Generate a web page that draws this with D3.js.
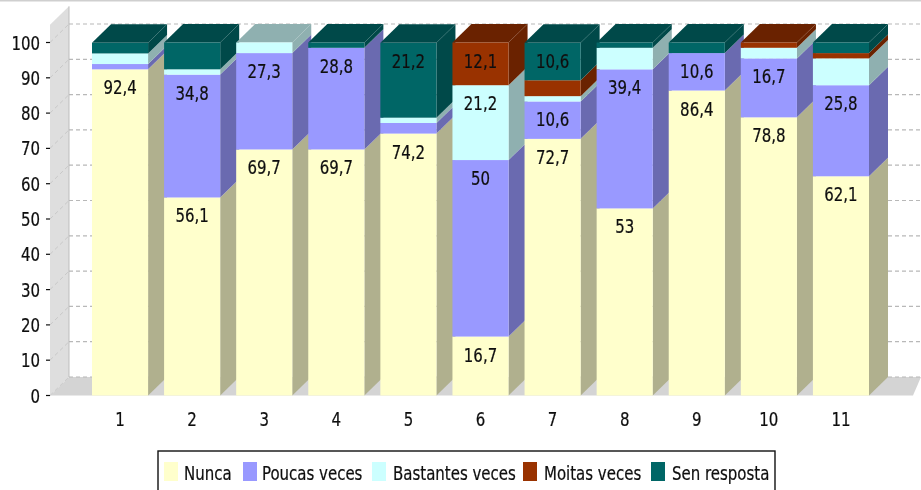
<!DOCTYPE html>
<html><head><meta charset="utf-8">
<script src="https://cdn.jsdelivr.net/npm/d3@7/dist/d3.min.js"></script>
<style>
html,body{margin:0;padding:0;background:#fff;overflow:hidden}
svg{display:block}
text{font-family:"DejaVu Sans Condensed","DejaVu Sans",sans-serif;font-stretch:condensed;fill:#111;stroke:#111;stroke-width:.2}
</style></head><body>
<svg id="c" width="921" height="490"></svg>
<script>
const categories = ["1","2","3","4","5","6","7","8","9","10","11"];
const seriesNames = ["Nunca","Poucas veces","Bastantes veces","Moitas veces","Sen resposta"];
const nunca       = [92.4,56.1,69.7,69.7,74.2,16.7,72.7,53,86.4,78.8,62.1];
const poucas      = [1.5,34.8,27.3,28.8,3,50,10.6,39.4,10.6,16.7,25.8];
const bastantes   = [3,1.5,3,0,1.5,21.2,1.5,6.1,0,3,7.6];
const moitas      = [0,0,0,0,0,12.1,4.5,0,0,1.5,1.5];
const senResposta = [3,7.6,0,1.5,21.2,0,10.6,1.5,3,0,3];
const yTicks = [0,10,20,30,40,50,60,70,80,90,100];
const frontColors = ["#ffffcc","#9999ff","#ccffff","#993300","#006666"];
const sideColors  = ["#b0b08e","#6b6bb0","#8fb0b0","#6b2400","#004a4a"];
const legendSwatchX = [164,243,372,523,651];
const legendTextX   = [184,262,393,544,672];

const series = [nunca,poucas,bastantes,moitas,senResposta];
const dx = 19, dy = 18.5;
const y = d3.scaleLinear().domain([0,100]).range([395.5,42.5]);
const x = d3.scaleBand().domain(categories).range([92,869]).paddingInner(0.222).paddingOuter(0);
const svg = d3.select("#c");
const defs = svg.append("defs");
defs.append("filter").attr("id","soft").attr("x","-2%").attr("y","-2%").attr("width","104%").attr("height","104%")
  .append("feGaussianBlur").attr("stdDeviation",0.5);
const root = svg.append("g").attr("filter","url(#soft)");
const pts = a => a.map(p=>p.join(",")).join(" ");
function label(parent,px,py,txt,anchor){
  return parent.append("text").attr("transform",`translate(${px},${py}) scale(0.98,1.13)`)
    .attr("text-anchor",anchor).attr("font-size",17).text(txt);
}

root.append("rect").attr("width",921).attr("height",1.5).attr("fill","#cfcfcf");
const wallL = 50, wallR = wallL+dx;
const wallTop = y(105);
root.append("polygon").attr("points",pts([[wallL,y(0)],[wallR,y(0)-dy],[wallR,wallTop-dy],[wallL,wallTop]])).attr("fill","#dedede");
root.append("polygon").attr("points",pts([[wallL,y(0)],[wallR,y(0)-dy],[921,y(0)-dy],[913,y(0)]])).attr("fill","#d4d4d4");
root.append("line").attr("x1",wallR).attr("x2",wallR).attr("y1",wallTop-dy).attr("y2",y(0)-dy).attr("stroke","#bdbdbd");

yTicks.forEach(t=>{
  root.append("line").attr("x1",wallR).attr("x2",921).attr("y1",y(t)-dy).attr("y2",y(t)-dy)
    .attr("stroke","#b8b8b8").attr("stroke-width",1.2).attr("stroke-dasharray","4,3");
  root.append("line").attr("x1",wallL).attr("x2",wallR).attr("y1",y(t)).attr("y2",y(t)-dy)
    .attr("stroke","#c8c8c8").attr("stroke-dasharray","4,3");
});

const bars = root.append("g");
categories.forEach((c,i)=>{
  const x0 = x(c), x1 = x0+x.bandwidth();
  let cum = 0;
  const segs = [];
  series.forEach((s,k)=>{ if(s[i]>0){ segs.push({k,v:s[i],a:cum,b:cum+s[i]}); cum+=s[i]; }});
  segs.forEach(g=>{
    bars.append("polygon").attr("fill",sideColors[g.k])
      .attr("points",pts([[x1,y(g.a)],[x1+dx,y(g.a)-dy],[x1+dx,y(g.b)-dy],[x1,y(g.b)]]));
  });
  const t = segs[segs.length-1];
  bars.append("polygon").attr("fill",sideColors[t.k])
    .attr("points",pts([[x0,y(t.b)],[x0+dx,y(t.b)-dy],[x1+dx,y(t.b)-dy],[x1,y(t.b)]]));
  segs.forEach(g=>{
    bars.append("rect").attr("x",x0).attr("width",x.bandwidth())
      .attr("y",y(g.b)).attr("height",y(g.a)-y(g.b)).attr("fill",frontColors[g.k]);
  });
  segs.filter(g=>g.v>=10).forEach(g=>{
    label(bars,(x0+x1)/2,y(g.b)+25,String(g.v).replace(".",","),"middle");
  });
  label(root,(x0+x1)/2,425.5,c,"middle");
});

yTicks.forEach(t=>{
  root.append("line").attr("x1",46).attr("x2",wallL).attr("y1",y(t)).attr("y2",y(t)).attr("stroke","#111").attr("stroke-width",1.2);
  label(root,40,y(t)+7,t,"end");
});

root.append("rect").attr("x",158).attr("y",451).attr("width",617).attr("height",60).attr("fill","#fff").attr("stroke","#111").attr("stroke-width",1.4);
seriesNames.forEach((n,k)=>{
  root.append("rect").attr("x",legendSwatchX[k]).attr("y",462).attr("width",14).attr("height",19).attr("fill",frontColors[k]);
  label(root,legendTextX[k],479.5,n,"start");
});
</script>
</body></html>
